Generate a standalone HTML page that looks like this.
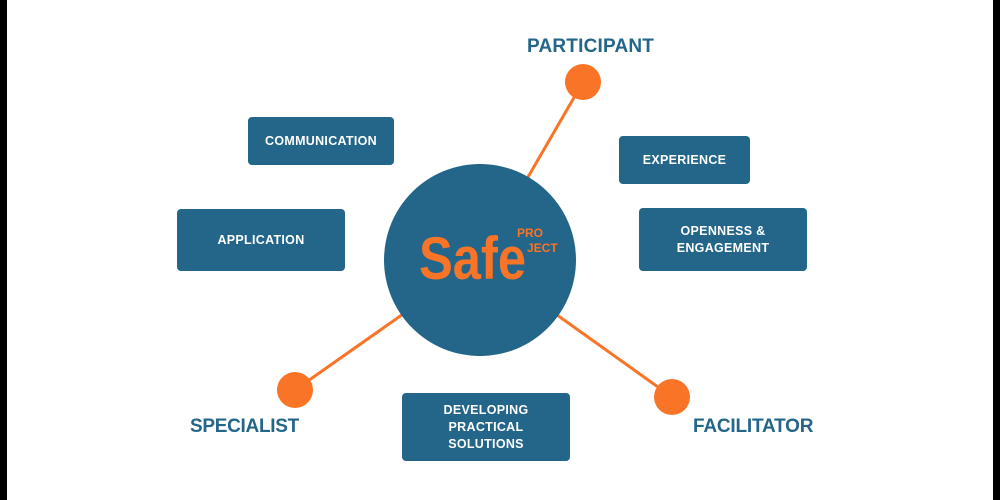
<!DOCTYPE html>
<html><head><meta charset="utf-8"><style>
html,body{margin:0;padding:0;background:#fff}
body{width:1000px;height:500px;position:relative;overflow:hidden;font-family:"Liberation Sans",sans-serif}
.bar{position:absolute;top:0;width:7px;height:500px;background:#000}
.box{position:absolute;background:#23668a;border-radius:4px;color:#fff;font-weight:bold;font-size:12.5px;display:flex;align-items:center;justify-content:center;text-align:center;line-height:17px;letter-spacing:0.3px}
.lbl{position:absolute;color:#23668a;font-weight:bold;font-size:19px;white-space:nowrap}
</style></head><body>
<div class="bar" style="left:0"></div><div class="bar" style="right:0"></div>
<svg width="1000" height="500" style="position:absolute;left:0;top:0">
<g stroke="#f97426" stroke-width="3">
<line x1="583" y1="82" x2="480" y2="260"/>
<line x1="295" y1="390" x2="480" y2="260"/>
<line x1="672" y1="397" x2="480" y2="260"/>
</g>
<circle cx="480" cy="260" r="96" fill="#23668a"/>
<g fill="#f97426">
<circle cx="583" cy="82" r="18"/>
<circle cx="295" cy="390" r="18"/>
<circle cx="672" cy="397" r="18"/>
</g>
<text x="419" y="279" font-family="Liberation Sans,sans-serif" font-weight="bold" font-size="60" fill="#f97426" textLength="107" lengthAdjust="spacingAndGlyphs">Safe</text>
<text x="517" y="237" font-family="Liberation Sans,sans-serif" font-size="12" fill="#f97426" font-weight="bold">PRO</text>
<text x="527" y="252" font-family="Liberation Sans,sans-serif" font-size="12" fill="#f97426" font-weight="bold">JECT</text>
</svg>
<div class="box" style="left:248px;top:117px;width:146px;height:48px">COMMUNICATION</div>
<div class="box" style="left:619px;top:136px;width:131px;height:48px">EXPERIENCE</div>
<div class="box" style="left:177px;top:209px;width:168px;height:62px">APPLICATION</div>
<div class="box" style="left:639px;top:208px;width:168px;height:63px">OPENNESS &amp;<br>ENGAGEMENT</div>
<div class="box" style="left:402px;top:393px;width:168px;height:68px">DEVELOPING<br>PRACTICAL<br>SOLUTIONS</div>
<div class="lbl" style="left:527px;top:36px;letter-spacing:0.2px">PARTICIPANT</div>
<div class="lbl" style="left:190px;top:416px;letter-spacing:-0.3px">SPECIALIST</div>
<div class="lbl" style="left:693px;top:416px;letter-spacing:-0.2px">FACILITATOR</div>
</body></html>
